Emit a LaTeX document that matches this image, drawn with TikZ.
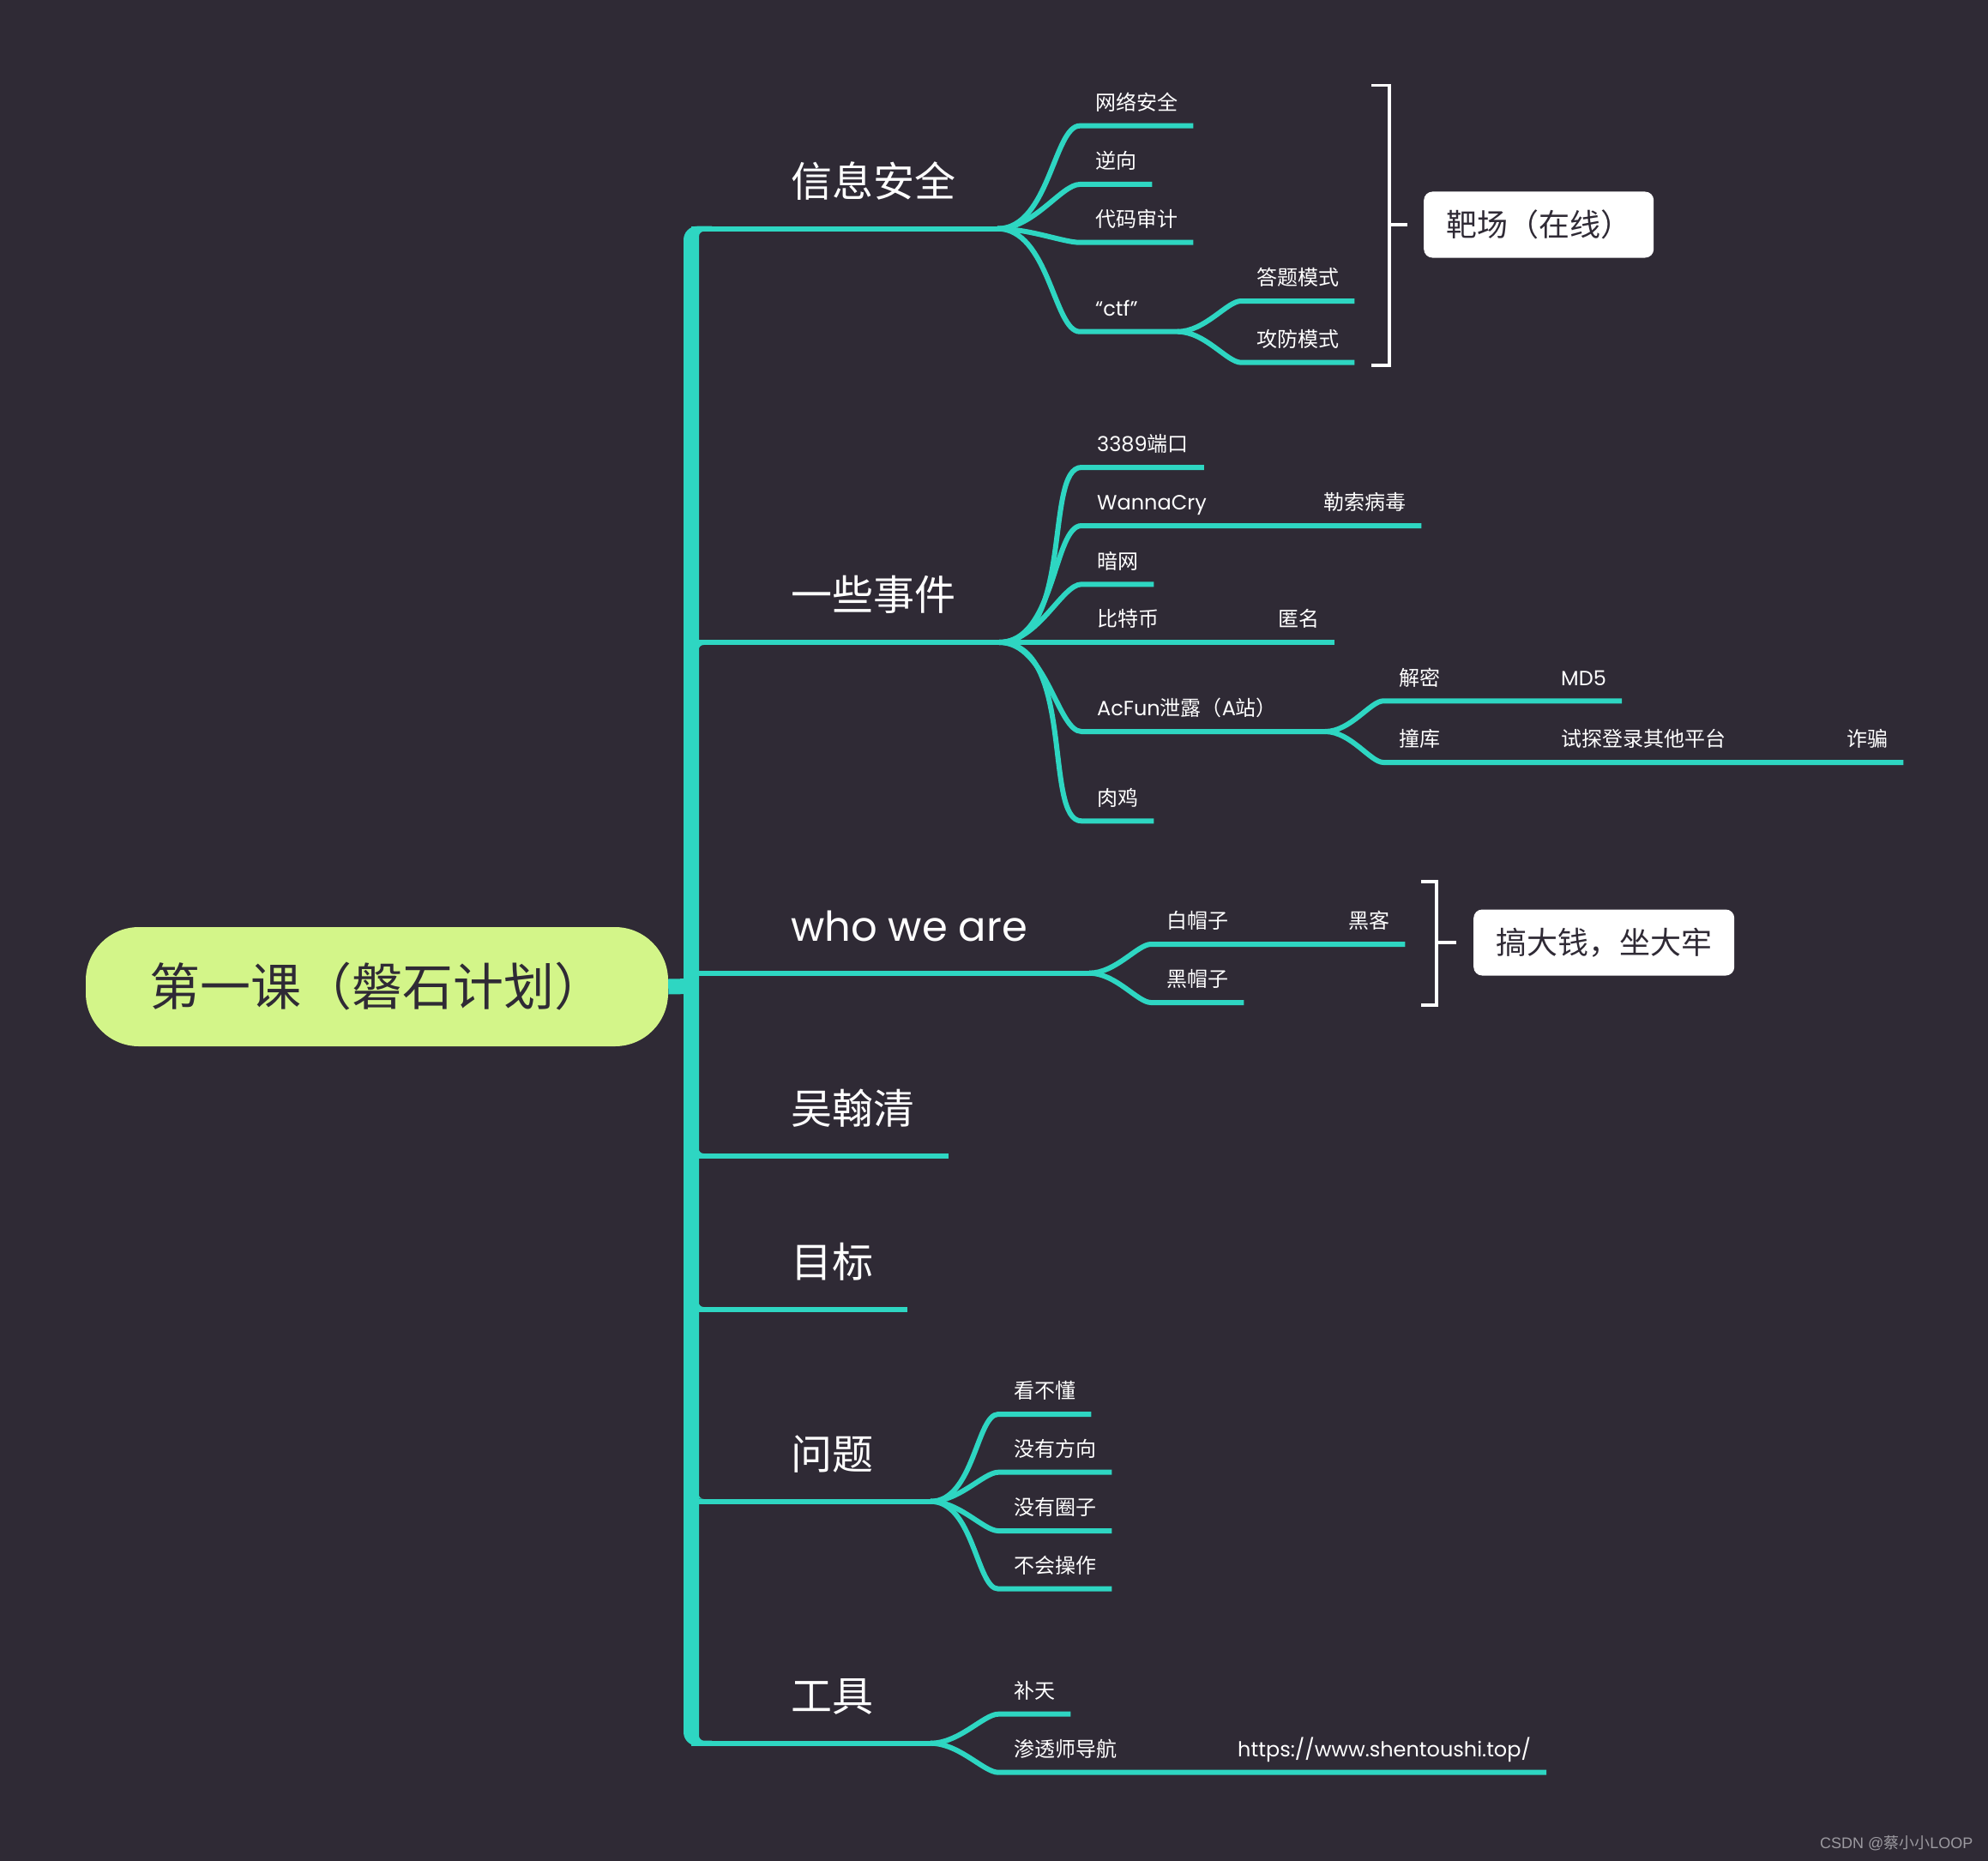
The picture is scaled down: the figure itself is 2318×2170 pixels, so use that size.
\documentclass[tikz,border=0pt]{standalone}
\usepackage{fontspec}
\setmainfont{Noto Sans CJK SC}
\newfontfamily\latinfont{Poppins}
\newfontfamily\markfont{Liberation Sans}
\usepackage{xcolor}
\usepackage{tikz}
\usetikzlibrary{positioning}

\definecolor{bgcol}{HTML}{2F2A35}
\definecolor{linecol}{HTML}{2ED6C2}
\definecolor{rootcol}{HTML}{D3F589}
\definecolor{markcol}{HTML}{9C9AA0}

\begin{document}
\begin{tikzpicture}[
    x=1pt, y=-1pt,
    every node/.style={text=white},
    root/.style={
        rectangle,
        fill=rootcol,
        text=bgcol,
        rounded corners=62pt,
        minimum width=679pt,
        minimum height=139pt,
        font=\fontsize{59}{70}\selectfont
    },
    topic/.style={
        anchor=south west,
        inner xsep=40pt,
        inner ysep=37pt,
        text height=36.5pt,
        text depth=0pt,
        font=\fontsize{48}{56}\selectfont
    },
    sub/.style={
        anchor=south west,
        inner xsep=18pt,
        inner ysep=18pt,
        text height=18.2pt,
        text depth=0pt,
        font=\fontsize{24}{28}\selectfont
    },
    note/.style={
        rectangle,
        fill=white,
        text=bgcol,
        rounded corners=10pt,
        inner xsep=26pt,
        minimum height=77pt,
        font=\fontsize{36}{42}\selectfont
    },
    stub/.style={draw=linecol, line width=18pt},
    link/.style={draw=linecol, line width=6pt},
    fan/.style={out=0, in=180, out looseness=1, in looseness=0.5},
    bracket/.style={draw=white, line width=3.5pt}
]

\fill[bgcol] (0,0) rectangle (2318,2170);

% Trunk
\fill[linecol] (830,263.7) -- (813,263.7) arc[start angle=90, end angle=180, radius=16pt]
    -- (797,2019.7) arc[start angle=180, end angle=270, radius=16pt]
    -- (830,2035.7) -- (830,2029.7) -- (821,2029.7) arc[start angle=270, end angle=180, radius=6pt]
    -- (815,275.7) arc[start angle=180, end angle=90, radius=6pt]
    -- (830,269.7) -- cycle;

\coordinate (j0) at (806,1150);
\coordinate (jA) at (806,266.7);
\coordinate (jB) at (806,749);
\coordinate (jC) at (806,1134.7);
\coordinate (jD) at (806,1348);
\coordinate (jE) at (806,1527);
\coordinate (jF) at (806,1750.7);
\coordinate (jG) at (806,2032.7);

% fillets at the junctions
\fill[linecol] (814.5,758) -- (814.5,752) -- (820.5,752) arc[start angle=90, end angle=180, radius=6pt] -- cycle;
\fill[linecol] (814.5,1339) -- (814.5,1345) -- (820.5,1345) arc[start angle=270, end angle=180, radius=6pt] -- cycle;
\fill[linecol] (814.5,1518) -- (814.5,1524) -- (820.5,1524) arc[start angle=270, end angle=180, radius=6pt] -- cycle;
\fill[linecol] (814.5,1741.7) -- (814.5,1747.7) -- (820.5,1747.7) arc[start angle=270, end angle=180, radius=6pt] -- cycle;

% Nodes
\node[root] (root) at (439.5,1150.5) {第一课（磐石计划）};

\node[topic] (xxaq) at (882,266.7) {信息安全};
\coordinate (sA) at (1163,266.7);
\node[sub] (wlaq) at (1259,146.7) {网络安全};
\node[sub] (nx) at (1259,215) {逆向};
\node[sub] (dmsj) at (1259,282.7) {代码审计};
\node[sub] (ctf) at (1259,386.7) {\latinfont “ctf”};
\coordinate (sAc) at (1373,386.7);
\node[sub] (dtms) at (1447,351) {答题模式};
\node[sub] (gfms) at (1447,422.7) {攻防模式};

\coordinate (bA1) at (1620,99.3);
\coordinate (bA2) at (1620,426);
\coordinate (bAm) at (1620,262);
\coordinate (bAt) at (1641,262);
\node[note, right=19pt of bAt] (bc) {靶场（在线）};

\node[topic] (sj) at (882,749) {一些事件};
\coordinate (sB) at (1165,749);
\node[sub] (dk) at (1261,545) {{\latinfont 3389}端口};
\node[sub] (wc) at (1261,613) {\latinfont WannaCry};
\node[sub] (lsbd) at (1525,613) {勒索病毒};
\node[sub] (aw) at (1261,681.3) {暗网};
\node[sub] (btb) at (1261,749) {比特币};
\node[sub] (nm) at (1472,749) {匿名};
\node[sub] (acfun) at (1261,853) {{\latinfont AcFun}泄露（{\latinfont A}站）};
\coordinate (sBc) at (1545,853);
\node[sub] (jm) at (1613,817.3) {解密};
\node[sub] (md5) at (1802,817.3) {\latinfont MD5};
\node[sub] (zk) at (1613,889) {撞库};
\node[sub] (stdl) at (1802,889) {试探登录其他平台};
\node[sub] (zp) at (2135,889) {诈骗};
\node[sub] (rj) at (1261,957.3) {肉鸡};

\node[topic] (who) at (882,1134.7) {\latinfont who we are};
\coordinate (sC) at (1270,1134.7);
\node[sub] (bmz) at (1342,1101) {白帽子};
\node[sub] (hk) at (1554,1101) {黑客};
\node[sub] (hmz) at (1342,1169) {黑帽子};

\coordinate (bB1) at (1675,1028);
\coordinate (bB2) at (1675,1172);
\coordinate (bBm) at (1675,1099);
\coordinate (bBt) at (1698,1099);
\node[note, right=20pt of bBt] (gdq) {搞大钱，坐大牢};

\node[topic] (whq) at (882,1348) {吴翰清};
\node[topic] (mb) at (882,1527) {目标};

\node[topic] (wt) at (882,1750.7) {问题};
\coordinate (sE) at (1085,1750.7);
\node[sub] (kbd) at (1164,1649) {看不懂};
\node[sub] (myfx) at (1164,1716.7) {没有方向};
\node[sub] (myqz) at (1164,1785) {没有圈子};
\node[sub] (bhcz) at (1164,1852.7) {不会操作};

\node[topic] (gj) at (882,2032.7) {工具};
\coordinate (sF) at (1085,2032.7);
\node[sub] (bt) at (1164,1998.7) {补天};
\node[sub] (stsdh) at (1164,2066.7) {渗透师导航};
\node[sub] (url) at (1425,2066.7) {\latinfont https://www.shentoushi.top/};

\node[anchor=east, text=markcol, font=\fontsize{18}{21}\selectfont] (wm) at (2304,2149)
{{\markfont CSDN @}蔡小小{\markfont LOOP}};

% Lines
\draw[stub] (root.east) -- (j0);

\draw[link] (jA) -- (sA);
\draw[link] (sA) to[fan] (wlaq.south west) -- (wlaq.south east);
\draw[link] (sA) to[fan] (nx.south west) -- (nx.south east);
\draw[link] (sA) to[fan] (dmsj.south west) -- (dmsj.south east);
\draw[link] (sA) to[fan] (ctf.south west) -- (sAc);
\draw[link] (sAc) to[fan] (dtms.south west) -- (dtms.south east);
\draw[link] (sAc) to[fan] (gfms.south west) -- (gfms.south east);

\draw[link] (jB) -- (sB);
\draw[link] (sB) to[fan] (dk.south west) -- (dk.south east);
\draw[link] (sB) to[fan] (wc.south west) -- (lsbd.south east);
\draw[link] (sB) to[fan] (aw.south west) -- (aw.south east);
\draw[link] (sB) to[fan] (btb.south west) -- (nm.south east);
\draw[link] (sB) to[fan] (acfun.south west) -- (sBc);
\draw[link] (sBc) to[fan] (jm.south west) -- (md5.south east);
\draw[link] (sBc) to[fan] (zk.south west) -- (zp.south east);
\draw[link] (sB) to[fan] (rj.south west) -- (rj.south east);

\draw[link] (jC) -- (sC);
\draw[link] (sC) to[fan] (bmz.south west) -- (hk.south east);
\draw[link] (sC) to[fan] (hmz.south west) -- (hmz.south east);

\draw[link] (jD) -- (whq.south east);
\draw[link] (jE) -- (mb.south east);

\draw[link] (jF) -- (sE);
\draw[link] (sE) to[fan] (kbd.south west) -- (kbd.south east);
\draw[link] (sE) to[fan] (myfx.south west) -- (myfx.south east);
\draw[link] (sE) to[fan] (myqz.south west) -- (myqz.south east);
\draw[link] (sE) to[fan] (bhcz.south west) -- (bhcz.south east);

\draw[link] (jG) -- (sF);
\draw[link] (sF) to[fan] (bt.south west) -- (bt.south east);
\draw[link] (sF) to[fan] (stsdh.south west) -- (url.south east);

% Brackets
\draw[bracket] (bA1) ++(-21,0) -- (bA1) -- (bA2) -- ++(-21,0);
\draw[bracket] (bAm) -- (bAt);
\draw[bracket] (bB1) ++(-18,0) -- (bB1) -- (bB2) -- ++(-18,0);
\draw[bracket] (bBm) -- (bBt);

\end{tikzpicture}
\end{document}
